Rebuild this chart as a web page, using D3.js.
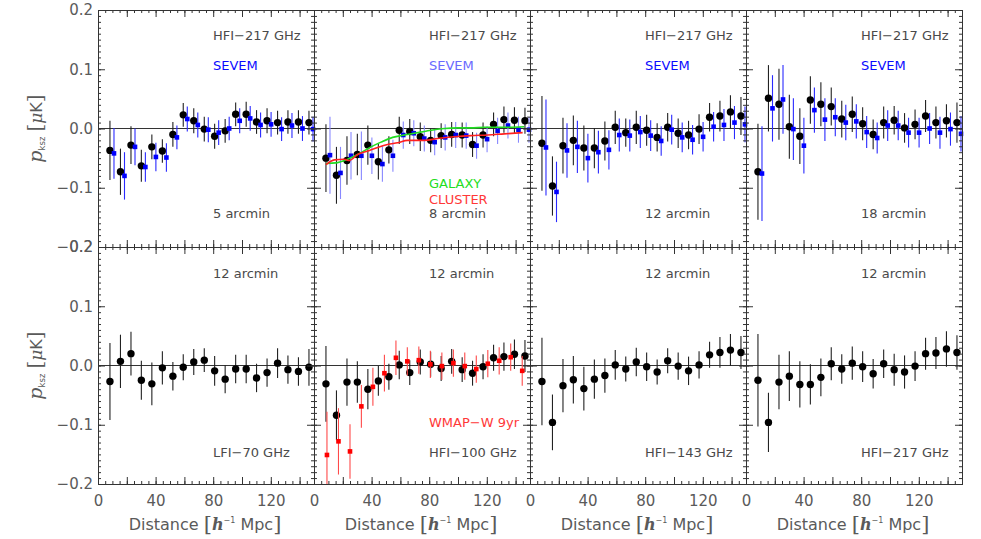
<!DOCTYPE html>
<html>
<head>
<meta charset="utf-8">
<script src="https://cdn.jsdelivr.net/npm/d3@7"></script>
<style>
html,body{margin:0;padding:0;background:#fff;}
svg{display:block;}
</style>
</head>
<body>
<svg id="chart" width="981" height="539"></svg>
<script>
// ---------------- DATA ----------------
const dist = [8.3,15.6,22.9,30.1,37.4,44.7,52.0,59.2,66.5,73.8,81.0,88.3,95.6,102.9,110.1,117.4,124.7,131.9,139.2,146.5];
const distSevem = [11.1,18.4,25.7,32.9,40.2,47.5,54.8,62.0,69.3,76.6,83.8,91.1,98.4,105.7,112.9,120.2,127.5,134.7,142.0,149.3];
const distWmap = [9.0,17.0,25.0,32.9,40.9,48.9,56.9,64.8,72.8,80.8,88.8,96.8,104.7,112.7,120.7,128.6,136.6,144.6];

// Row 1: HFI-217 GHz vs SEVEM at different apertures
const p5Val  = [-0.037,-0.073,-0.028,-0.063,-0.031,-0.038,-0.010,0.023,0.013,-0.001,-0.013,-0.004,0.024,0.024,0.011,0.013,0.010,0.011,0.011,0.010];
const p5Err  = [0.050,0.039,0.032,0.027,0.021,0.020,0.021,0.020,0.021,0.021,0.021,0.020,0.020,0.021,0.020,0.021,0.020,0.020,0.020,0.020];
const s5Val  = [-0.042,-0.080,-0.031,-0.065,-0.048,-0.049,-0.015,0.016,0.006,-0.002,-0.007,0.000,0.013,0.017,0.006,0.007,-0.001,0.005,0.000,-0.001];
const s5Err  = [0.043,0.040,0.031,0.025,0.024,0.024,0.020,0.021,0.021,0.021,0.021,0.020,0.021,0.021,0.021,0.021,0.020,0.021,0.021,0.021];

const p8Val  = [-0.050,-0.079,-0.054,-0.044,-0.028,-0.056,-0.036,-0.003,-0.005,-0.014,-0.020,-0.012,-0.010,-0.011,-0.027,-0.011,0.007,0.015,0.014,0.013];
const p8Err  = [0.057,0.048,0.041,0.035,0.033,0.030,0.023,0.023,0.021,0.024,0.020,0.021,0.021,0.021,0.021,0.021,0.020,0.022,0.022,0.022];
const s8Val  = [-0.045,-0.075,-0.046,-0.046,-0.046,-0.060,-0.046,-0.011,-0.008,-0.017,-0.023,-0.015,-0.011,-0.012,-0.029,-0.018,-0.004,0.005,-0.002,-0.002];
const s8Err  = [0.065,0.044,0.040,0.041,0.031,0.030,0.027,0.023,0.022,0.022,0.022,0.022,0.022,0.022,0.022,0.022,0.022,0.022,0.022,0.022];

const p12Val = [-0.025,-0.097,-0.029,-0.020,-0.033,-0.033,-0.021,0.002,-0.007,0.002,-0.003,-0.015,0.002,-0.008,-0.011,-0.001,0.019,0.021,0.028,0.021];
const p12Err = [0.080,0.050,0.047,0.042,0.038,0.034,0.033,0.028,0.024,0.028,0.026,0.024,0.024,0.025,0.024,0.025,0.024,0.026,0.028,0.032];
const s12Val = [-0.032,-0.107,-0.037,-0.031,-0.050,-0.040,-0.036,-0.011,-0.012,-0.006,-0.012,-0.021,-0.002,-0.015,-0.019,-0.014,0.003,0.006,0.010,0.007];
const s12Err = [0.081,0.051,0.046,0.044,0.041,0.036,0.033,0.028,0.027,0.027,0.026,0.025,0.025,0.025,0.025,0.025,0.025,0.027,0.028,0.030];

const p18Val = [-0.073,0.051,0.041,0.003,-0.013,0.048,0.041,0.037,0.016,0.024,0.008,-0.010,0.010,0.014,0.001,0.007,0.021,0.010,0.013,0.010];
const p18Err = [0.081,0.056,0.060,0.054,0.047,0.040,0.037,0.032,0.031,0.030,0.028,0.025,0.027,0.024,0.025,0.025,0.027,0.027,0.028,0.034];
const s18Val = [-0.076,0.034,0.049,-0.001,-0.029,0.031,0.015,0.019,0.010,0.012,-0.006,-0.016,0.005,0.005,-0.007,-0.007,0.000,-0.007,-0.001,-0.009];
const s18Err = [0.080,0.056,0.058,0.052,0.047,0.038,0.036,0.032,0.030,0.029,0.027,0.026,0.026,0.025,0.025,0.025,0.026,0.027,0.028,0.030];

// Models (8 arcmin panel)
const galaxyDist  = [8.3,15.2,22.2,30.3,39.6,46.5,54.6,62.7,69.6,76.6,83.5,90.5,99.7,109.0,118.3,132.1,146.0];
const galaxyVal   = [-0.059,-0.058,-0.053,-0.044,-0.031,-0.023,-0.015,-0.011,-0.008,-0.005,-0.002,0.000,0.001,0.001,0.002,0.002,0.003];
const clusterDist = [8.3,14.1,21.0,24.5,30.3,37.2,44.2,51.1,58.1,65.0,69.6,76.6,85.8,97.4,109.0,120.6,132.1,144.9];
const clusterVal  = [-0.061,-0.053,-0.052,-0.054,-0.044,-0.038,-0.032,-0.027,-0.024,-0.020,-0.020,-0.020,-0.017,-0.014,-0.012,-0.011,-0.009,-0.007];

// Row 2: 12 arcmin, different frequency channels
const lfi70Val  = [-0.027,0.007,0.020,-0.025,-0.031,-0.004,-0.018,-0.003,0.006,0.009,-0.009,-0.023,-0.006,-0.006,-0.021,-0.012,0.004,-0.007,-0.010,-0.003];
const lfi70Err  = [0.065,0.045,0.037,0.033,0.036,0.028,0.024,0.022,0.022,0.020,0.025,0.024,0.024,0.024,0.024,0.024,0.025,0.024,0.024,0.031];
const hfi100Val = [-0.031,-0.084,-0.028,-0.028,-0.040,-0.026,-0.019,0.001,-0.012,0.006,0.002,-0.005,0.007,-0.007,-0.013,-0.002,0.013,0.015,0.019,0.016];
const hfi100Err = [0.064,0.042,0.040,0.035,0.034,0.025,0.022,0.024,0.021,0.021,0.021,0.021,0.021,0.021,0.021,0.021,0.022,0.024,0.025,0.027];
const wmapVal   = [-0.151,-0.128,-0.145,-0.069,-0.036,-0.013,0.013,0.007,0.009,0.002,-0.001,0.004,-0.001,-0.006,0.003,0.008,0.014,-0.009];
const wmapErr   = [0.073,0.056,0.046,0.036,0.032,0.031,0.029,0.024,0.023,0.023,0.023,0.023,0.023,0.023,0.023,0.023,0.023,0.025];
const hfi143Val = [-0.027,-0.096,-0.034,-0.024,-0.039,-0.023,-0.017,0.001,-0.006,0.006,-0.002,-0.011,0.008,-0.001,-0.009,0.001,0.018,0.022,0.026,0.022];
const hfi143Err = [0.074,0.047,0.045,0.040,0.037,0.033,0.029,0.025,0.021,0.024,0.024,0.021,0.021,0.023,0.024,0.023,0.022,0.026,0.027,0.028];
const hfi217Val = [-0.025,-0.096,-0.028,-0.018,-0.032,-0.032,-0.020,0.003,-0.006,0.004,-0.002,-0.014,0.003,-0.007,-0.011,-0.001,0.020,0.021,0.028,0.022];
const hfi217Err = [0.078,0.050,0.046,0.042,0.039,0.034,0.032,0.028,0.025,0.028,0.026,0.025,0.024,0.027,0.028,0.025,0.027,0.027,0.030,0.029];

const xTickLabels = [0, 40, 80, 120];
const yTickLabels = [-0.2, -0.1, 0.0, 0.1, 0.2];

// ---------------- LAYOUT ----------------
const svg = d3.select("#chart");
const PL = 98, PW = 216, PT = 10, PH = 237;
const TXT = "#4a4a4a", TICKTXT = "#5a5a5a", FRAME = "#333";
const FONT = "DejaVu Sans, sans-serif";

const panels = [
  {r:0,c:0, main:[p5Val,p5Err],  sec:{d:distSevem,v:s5Val,e:s5Err,fill:"#0000ff",bar:"#2a2aff"},
   texts:[{t:"HFI−217 GHz",y:40,col:TXT},{t:"SEVEM",y:70,col:"#0a0aff"},{t:"5 arcmin",y:218,col:TXT}]},
  {r:0,c:1, main:[p8Val,p8Err],  sec:{d:distSevem,v:s8Val,e:s8Err,fill:"#0000ee",bar:"#8888ff"}, models:true,
   texts:[{t:"HFI−217 GHz",y:40,col:TXT},{t:"SEVEM",y:70,col:"#6a6aff"},{t:"GALAXY",y:188,col:"#22dd22"},{t:"CLUSTER",y:204,col:"#ff3838"},{t:"8 arcmin",y:218,col:TXT}]},
  {r:0,c:2, main:[p12Val,p12Err], sec:{d:distSevem,v:s12Val,e:s12Err,fill:"#0000ff",bar:"#2a2aff"},
   texts:[{t:"HFI−217 GHz",y:40,col:TXT},{t:"SEVEM",y:70,col:"#0a0aff"},{t:"12 arcmin",y:218,col:TXT}]},
  {r:0,c:3, main:[p18Val,p18Err], sec:{d:distSevem,v:s18Val,e:s18Err,fill:"#0000ff",bar:"#2a2aff"},
   texts:[{t:"HFI−217 GHz",y:40,col:TXT},{t:"SEVEM",y:70,col:"#0a0aff"},{t:"18 arcmin",y:218,col:TXT}]},
  {r:1,c:0, main:[lfi70Val,lfi70Err],
   texts:[{t:"12 arcmin",y:278,col:TXT},{t:"LFI−70 GHz",y:457,col:TXT}]},
  {r:1,c:1, main:[hfi100Val,hfi100Err], sec:{d:distWmap,v:wmapVal,e:wmapErr,fill:"#ff0000",bar:"#ff4a4a"},
   texts:[{t:"12 arcmin",y:278,col:TXT},{t:"WMAP−W 9yr",y:427,col:"#ff3838"},{t:"HFI−100 GHz",y:457,col:TXT}]},
  {r:1,c:2, main:[hfi143Val,hfi143Err],
   texts:[{t:"12 arcmin",y:278,col:TXT},{t:"HFI−143 GHz",y:457,col:TXT}]},
  {r:1,c:3, main:[hfi217Val,hfi217Err],
   texts:[{t:"12 arcmin",y:278,col:TXT},{t:"HFI−217 GHz",y:457,col:TXT}]}
];

const defs = svg.append("defs");

panels.forEach((p, i) => {
  const left = PL + p.c * PW, top = PT + p.r * PH;
  const x = d3.scaleLinear().domain([0, 150]).range([left, left + PW]);
  const y = d3.scaleLinear().domain([-0.2, 0.2]).range([top + PH, top]);
  const g = svg.append("g");

  defs.append("clipPath").attr("id", "clip" + i)
    .append("rect").attr("x", left - 8).attr("y", top).attr("width", PW + 16).attr("height", PH);

  // zero line
  g.append("line").attr("x1", left).attr("x2", left + PW)
    .attr("y1", y(0)).attr("y2", y(0)).attr("stroke", FRAME).attr("stroke-width", 1);

  const dg = g.append("g").attr("clip-path", "url(#clip" + i + ")");

  // main series (black circles)
  const mainData = dist.map((d, k) => ({d, v: p.main[0][k], e: p.main[1][k]}));
  dg.selectAll(".mbar").data(mainData).join("line")
    .attr("x1", d => x(d.d)).attr("x2", d => x(d.d))
    .attr("y1", d => y(d.v - d.e)).attr("y2", d => y(d.v + d.e))
    .attr("stroke", "#222").attr("stroke-width", 1.1);
  dg.selectAll(".mpt").data(mainData).join("circle")
    .attr("cx", d => x(d.d)).attr("cy", d => y(d.v)).attr("r", 3.7).attr("fill", "#000");

  // secondary series (squares)
  if (p.sec) {
    const sData = p.sec.d.map((d, k) => ({d, v: p.sec.v[k], e: p.sec.e[k]}));
    dg.selectAll(".sbar").data(sData).join("line")
      .attr("x1", d => x(d.d)).attr("x2", d => x(d.d))
      .attr("y1", d => y(d.v - d.e)).attr("y2", d => y(d.v + d.e))
      .attr("stroke", p.sec.bar).attr("stroke-width", 1.1);
    const s = 4.6;
    dg.selectAll(".spt").data(sData).join("rect")
      .attr("x", d => x(d.d) - s / 2).attr("y", d => y(d.v) - s / 2)
      .attr("width", s).attr("height", s).attr("fill", p.sec.fill);
  }

  // models
  if (p.models) {
    const line = d3.line().x(d => x(d[0])).y(d => y(d[1])).curve(d3.curveMonotoneX);
    dg.append("path").datum(galaxyDist.map((d, k) => [d, galaxyVal[k]]))
      .attr("d", line).attr("fill", "none").attr("stroke", "#22dd22").attr("stroke-width", 1.6);
    dg.append("path").datum(clusterDist.map((d, k) => [d, clusterVal[k]]))
      .attr("d", line).attr("fill", "none").attr("stroke", "#ff2020").attr("stroke-width", 1.6);
  }

  // frame
  g.append("rect").attr("x", left + 0.5).attr("y", top + 0.5).attr("width", PW).attr("height", PH)
    .attr("fill", "none").attr("stroke", FRAME).attr("stroke-width", 1);

  // ticks (inward) on all four sides
  const xMinor = d3.range(0, 151, 5), xMajor = d3.range(0, 141, 20);
  const yMinor = d3.range(-20, 21).map(k => k / 100), yMajor = d3.range(-2, 3).map(k => k / 10);
  const addAxis = (axis, tx, ty) => {
    const a = g.append("g").attr("transform", `translate(${tx},${ty})`).call(axis);
    a.select(".domain").remove();
    a.selectAll("line").attr("stroke", FRAME);
    a.selectAll("text").remove();
  };
  addAxis(d3.axisBottom(x).tickValues(xMinor).tickSize(-3), 0, top + PH);
  addAxis(d3.axisBottom(x).tickValues(xMajor).tickSize(-7), 0, top + PH);
  addAxis(d3.axisTop(x).tickValues(xMinor).tickSize(-3), 0, top);
  addAxis(d3.axisTop(x).tickValues(xMajor).tickSize(-7), 0, top);
  addAxis(d3.axisLeft(y).tickValues(yMinor).tickSize(-3), left, 0);
  addAxis(d3.axisLeft(y).tickValues(yMajor).tickSize(-7), left, 0);
  addAxis(d3.axisRight(y).tickValues(yMinor).tickSize(-3), left + PW, 0);
  addAxis(d3.axisRight(y).tickValues(yMajor).tickSize(-7), left + PW, 0);

  // tick labels
  if (p.c === 0) {
    const ay = g.append("g").attr("transform", `translate(${left},0)`)
      .call(d3.axisLeft(y).tickValues(yTickLabels).tickSize(0).tickPadding(5).tickFormat(d3.format(".1f")));
    ay.select(".domain").remove();
    ay.selectAll("text").attr("font-family", FONT).attr("font-size", 15).attr("fill", TICKTXT);
  }
  if (p.r === 1) {
    const ax = g.append("g").attr("transform", `translate(0,${top + PH})`)
      .call(d3.axisBottom(x).tickValues(xTickLabels).tickSize(0).tickPadding(11).tickFormat(d3.format("d")));
    ax.select(".domain").remove();
    ax.selectAll("text").attr("font-family", FONT).attr("font-size", 15).attr("fill", TICKTXT);

    // x axis title
    const t = g.append("text").attr("x", left + PW / 2 - 1).attr("y", 530)
      .attr("text-anchor", "middle").attr("font-family", FONT).attr("font-size", 16).attr("fill", TICKTXT);
    t.append("tspan").text("Distance ");
    t.append("tspan").attr("font-family", "DejaVu Serif, serif").attr("font-size", 21).attr("dy", 1).text("[");
    t.append("tspan").attr("font-family", "DejaVu Serif, serif").attr("font-style", "italic").attr("font-weight", "bold").attr("font-size", 16).attr("dy", -1).text("h");
    t.append("tspan").attr("font-size", 8).attr("dy", -7).text("−1");
    t.append("tspan").attr("dy", 7).text(" Mpc");
    t.append("tspan").attr("font-family", "DejaVu Serif, serif").attr("font-size", 21).attr("dy", 1).text("]");
  }
  if (p.c === 0) {
    const cy = top + PH / 2;
    const t = g.append("text").attr("transform", `translate(42,${cy}) rotate(-90)`)
      .attr("text-anchor", "middle").attr("font-family", FONT).attr("font-size", 16).attr("fill", TICKTXT);
    t.append("tspan").attr("font-family", "DejaVu Serif, serif").attr("font-style", "italic").attr("font-size", 19).text("p");
    t.append("tspan").attr("font-size", 8.5).attr("dy", 3).text("ksz");
    t.append("tspan").attr("dy", -3).text(" ");
    t.append("tspan").attr("font-family", "DejaVu Serif, serif").attr("font-size", 20).text("[");
    t.append("tspan").attr("font-family", "DejaVu Serif, serif").attr("font-style", "italic").attr("font-size", 17).text("μ");
    t.append("tspan").text("K");
    t.append("tspan").attr("font-family", "DejaVu Serif, serif").attr("font-size", 20).text("]");
  }

  // annotations
  p.texts.forEach(a => {
    g.append("text").attr("x", left + 115).attr("y", a.y)
      .attr("font-family", FONT).attr("font-size", 13).attr("fill", a.col).text(a.t);
  });
});
</script>
</body>
</html>
